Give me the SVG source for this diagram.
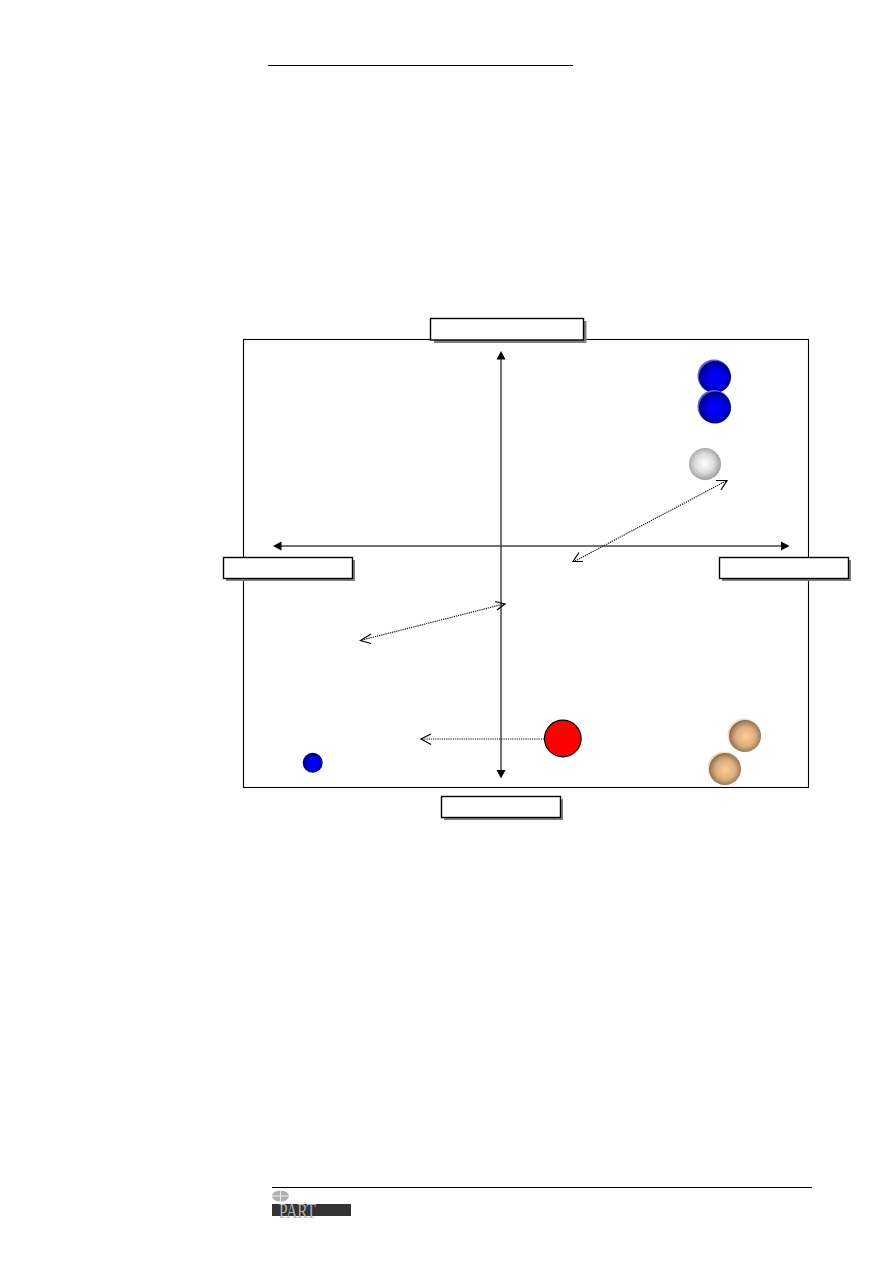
<svg xmlns="http://www.w3.org/2000/svg" width="893" height="1263" viewBox="0 0 893 1263">
<style>
.box{fill:#fff;stroke:#000;stroke-width:1.4}
.sh{fill:#808080}
.ax{stroke:#444;stroke-width:1.5;fill:none}
.dot{stroke:#222;stroke-width:1.2;stroke-dasharray:1.300 .9;fill:none}
.head{stroke:#000;stroke-width:1.2;fill:none}
.tip{fill:#000}
</style>
<defs>
<radialGradient id="blue" cx="52%" cy="53%" r="50%"><stop offset="0" stop-color="#0000ff"/><stop offset=".6" stop-color="#0000e0"/><stop offset=".9" stop-color="#00009c"/><stop offset="1" stop-color="#000088"/></radialGradient>
<radialGradient id="grey" cx="48%" cy="48%" r="52%"><stop offset="0" stop-color="#ffffff"/><stop offset=".55" stop-color="#dedede"/><stop offset="1" stop-color="#a0a0a0"/></radialGradient>
<radialGradient id="tan" cx="52%" cy="52%" r="50%"><stop offset="0" stop-color="#ffcc94"/><stop offset=".6" stop-color="#dfae80"/><stop offset=".9" stop-color="#a58460"/><stop offset="1" stop-color="#8c7050"/></radialGradient>
</defs>
<line x1="268" y1="65.500" x2="573" y2="65.500" stroke="#000" stroke-width="1"/>
<rect id="field" x="243.500" y="339.500" width="565" height="448" fill="none" stroke="#000" stroke-width="1.100"/>
<g id="connectors">
<line class="ax" x1="501" y1="358" x2="501" y2="771"/>
<path class="tip" d="M501 351l-4.500 8.500h9zM501 778.500l-4.500-8.500h9z"/>
<line class="ax" x1="281" y1="546" x2="782" y2="546"/>
<path class="tip" d="M273 546l8.500-4.500v9zM789.500 546l-8.500-4.500v9z"/>
<line class="dot" x1="575" y1="561" x2="726" y2="481"/>
<path class="head" d="M716 480.500L727 480.500L721 490M583 561.500L573 561.500L579 552.500"/>
<line class="dot" x1="362" y1="640" x2="504" y2="604"/>
<path class="head" d="M371 634L360.500 640.500L371 643.500M495 601.500L505 604L497 610"/>
<line class="dot" x1="422" y1="739" x2="544" y2="739"/>
<path class="head" d="M431 734L421 739L431 744.500"/>
</g>
<g id="node-top"><rect class="sh" x="434" y="321" width="152.500" height="22"/><rect class="box" x="430.500" y="318.500" width="153" height="21.500"/></g>
<g id="node-left"><rect class="sh" x="226" y="560" width="129" height="21"/><rect class="box" x="223.500" y="557.500" width="129" height="21"/></g>
<g id="node-right"><rect class="sh" x="722" y="560" width="129" height="21"/><rect class="box" x="719.500" y="557.500" width="129" height="21"/></g>
<g id="node-bottom"><rect class="sh" x="444" y="799" width="119" height="21"/><rect class="box" x="441.500" y="796.500" width="119" height="21"/></g>
<g id="ball-blue-1"><circle cx="714" cy="376" r="16.500" fill="#5c5ce0"/><circle cx="715" cy="377" r="16" fill="url(#blue)"/></g>
<g id="ball-blue-2"><circle cx="714" cy="406.500" r="16.500" fill="#5c5ce0"/><circle cx="715" cy="407.500" r="16" fill="url(#blue)"/></g>
<g id="ball-grey"><circle cx="705" cy="464" r="16" fill="url(#grey)"/></g>
<g id="ball-red"><circle cx="562.800" cy="738.500" r="18.300" fill="#ff0000" stroke="#000" stroke-width="1.200"/></g>
<g id="ball-tan-1"><circle cx="744" cy="735" r="16.500" fill="#f6dcc2"/><circle cx="745" cy="736" r="16" fill="url(#tan)"/></g>
<g id="ball-tan-2"><circle cx="724" cy="768" r="16.500" fill="#f6dcc2"/><circle cx="725" cy="769" r="16" fill="url(#tan)"/></g>
<g id="ball-blue-small"><circle cx="312.700" cy="762.800" r="10" fill="url(#blue)"/></g>
<g id="footer">
<line x1="272" y1="1187.500" x2="812" y2="1187.500" stroke="#000" stroke-width="1"/>
<ellipse cx="280.500" cy="1196" rx="8.500" ry="5.500" fill="#b0b0b0"/>
<path d="M272 1196h17M280.500 1190.500v11" stroke="#eee" stroke-width="1" fill="none"/>
<rect x="272" y="1204" width="79" height="12" fill="#333"/>
<text x="279" y="1218" font-family="'Liberation Serif',serif" font-size="21" fill="#b0b0b0" textLength="37" lengthAdjust="spacingAndGlyphs">PART</text>
</g>
</svg>
